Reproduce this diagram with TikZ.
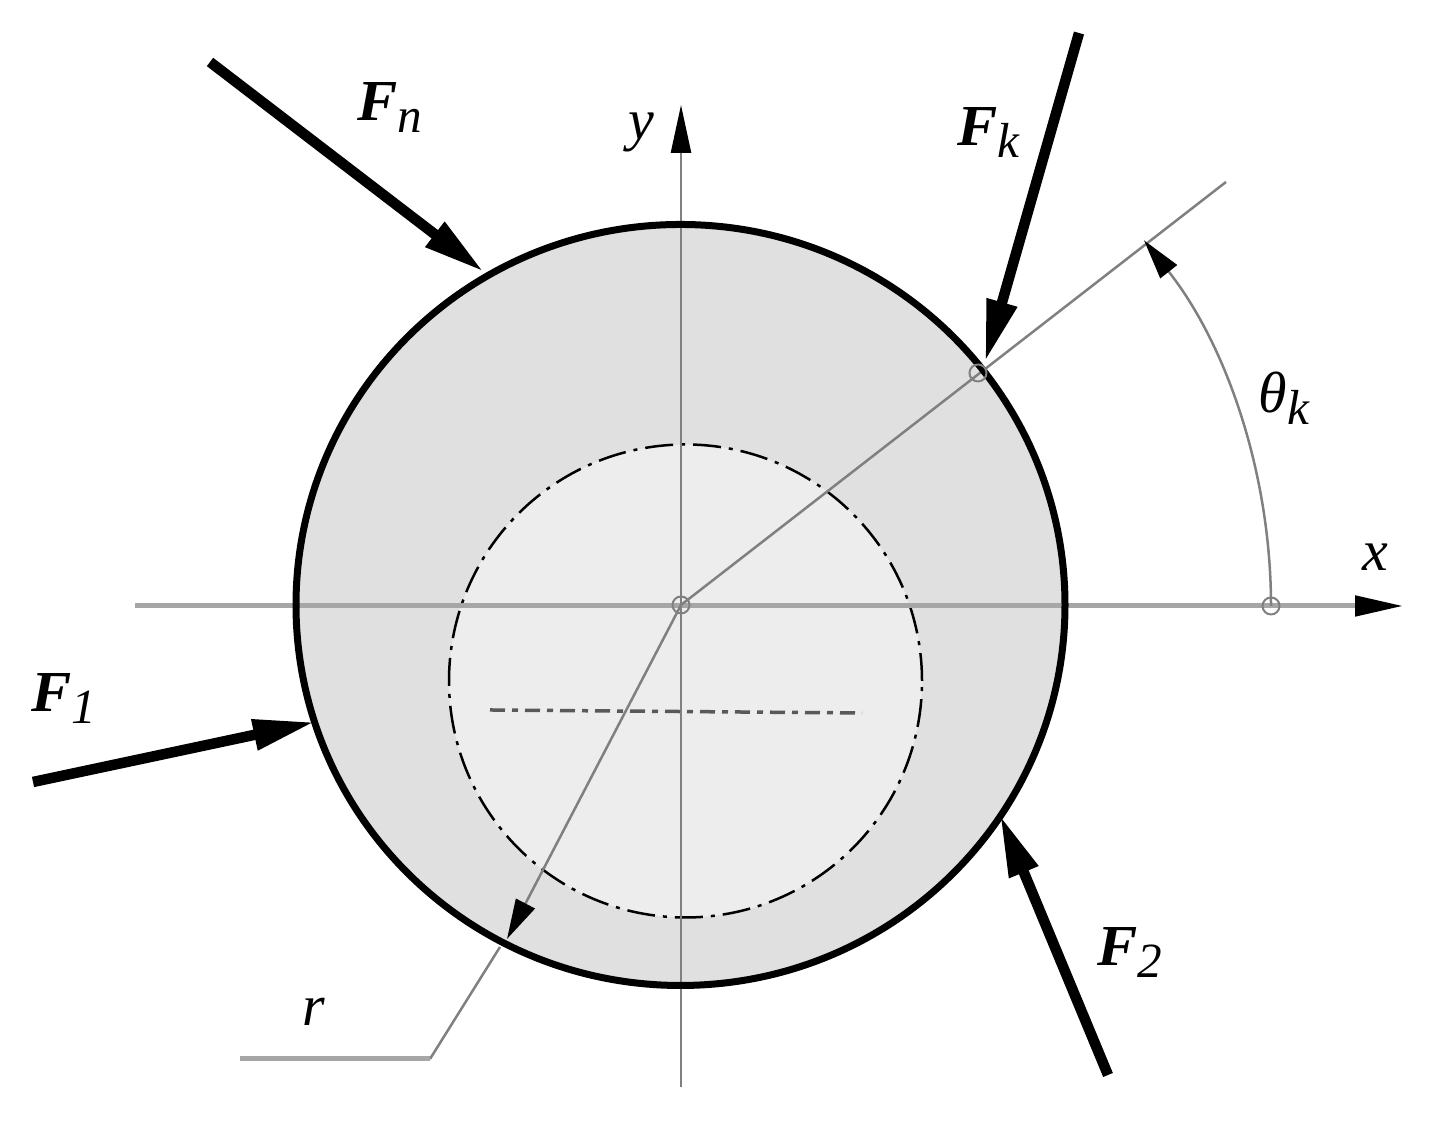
\documentclass[tikz,border=0pt]{standalone}
\usepackage{fontspec}
\setmainfont{Liberation Serif}
\usetikzlibrary{arrows.meta, positioning, shapes.geometric}
\tikzset{
    disc/.style={ellipse, inner sep=0pt, outer sep=0pt},
    axis/.style={draw=black!35, line width=0.05cm},
    thinline/.style={draw=black!50, line width=0.025cm},
    pin/.style={circle, draw=black!50, line width=0.02cm, minimum size=0.17cm, inner sep=0pt},
    force/.style={line width=0.105cm, -{Triangle[length=0.62cm, width=0.29cm]}},
    smallhead/.style={-{Triangle[length=0.40cm, width=0.21cm, black]}},
    axishead/.style={-{Triangle[length=0.48cm, width=0.20cm, black]}},
    chain/.style={draw=black, line width=0.025cm, dash pattern=on 0.28cm off 0.08cm on 0.04cm off 0.08cm},
    lab/.style={font=\fontsize{16.5}{18}\selectfont\itshape, inner sep=0pt, anchor=base west}
}
\newcommand{\sublab}[1]{\raisebox{-0.12cm}{\fontsize{14}{16}\selectfont #1}}
\newcommand{\forcelab}[1]{\scalebox{1.04}[1]{\textbf{F}}\sublab{#1}}

\begin{document}
\begin{tikzpicture}
        \useasboundingbox (0, 0) rectangle (14.4, 11.24);

        % Discs
        \node (Outer) [disc, fill=black!12, minimum width=7.69cm, minimum height=7.61cm] at (6.805, 5.19) {};
        \node (Inner) [disc, fill=black!7, minimum width=4.73cm, minimum height=4.73cm] at (6.855, 4.43) {};
        \draw[chain] (Inner.center) ++(2.365, 0) arc[start angle=0, end angle=360, radius=2.365];
        \coordinate (O) at (6.81, 5.19);

        % Axes
        \coordinate (X_start) at (1.35, 5.18);
        \coordinate (X_end) at (14.03, 5.18);
        \coordinate (Y_start) at (6.81, 0.37);
        \coordinate (Y_end) at (6.81, 10.19);
        \draw[axis, axishead] (X_start) -- (X_end);
        \draw[thinline, axishead] (Y_start) -- (Y_end);

        % Chain line
        \coordinate (Chain_start) at (4.90, 4.14);
        \coordinate (Chain_end) at (8.62, 4.11);
        \draw[draw=black!65, line width=0.035cm, dash pattern=on 0.15cm off 0.07cm on 0.06cm off 0.07cm] (Chain_start) -- (Chain_end);

        % Radius and angle
        \coordinate (Ray_end) at (12.26, 9.42);
        \coordinate (R_tip) at (5.07, 1.85);
        \coordinate (R_hit) at (5.00, 1.77);
        \coordinate (R_knee) at (4.30, 0.65);
        \coordinate (R_free) at (2.40, 0.65);
        \coordinate (Arc_start) at (12.71, 5.18);
        \draw[thinline] (O) -- (Ray_end);
        \draw[thinline, smallhead] (O) -- (R_tip);
        \draw[thinline] (R_hit) -- (R_knee);
        \draw[axis] (R_knee) -- (R_free);
        \draw[thinline, smallhead] (Arc_start) arc[start angle=0, end angle=38.3, radius=5.9];

        % Rim on top
        \node (Rim) [disc, draw=black, line width=0.07cm, minimum width=7.69cm, minimum height=7.61cm] at (6.805, 5.19) {};

        % Pins
        \node (Pin_O) [pin] at (O) {};
        \node (Pin_k) [pin] at (9.78, 7.51) {};
        \node (Pin_x) [pin] at (Arc_start) {};

        % Forces
        \coordinate (Fn_start) at (2.10, 10.62);
        \coordinate (Fn_end) at (4.84, 8.52);
        \coordinate (Fk_start) at (10.79, 10.91);
        \coordinate (Fk_end) at (9.85, 7.62);
        \coordinate (F2_start) at (11.08, 0.49);
        \coordinate (F2_end) at (10.00, 3.09);
        \coordinate (F1_start) at (0.33, 3.42);
        \coordinate (F1_end) at (3.15, 4.02);
        \draw[force] (Fn_start) -- (Fn_end);
        \draw[force] (Fk_start) -- (Fk_end);
        \draw[force] (F2_start) -- (F2_end);
        \draw[force] (F1_start) -- (F1_end);

        % Labels
        \node (Fn_label) [lab] at (3.57, 10.03) {\forcelab{n}};
        \node (Fk_label) [lab] at (9.57, 9.78) {\forcelab{k}};
        \node (F2_label) [lab] at (10.97, 1.58) {\forcelab{2}};
        \node (F1_label) [lab] at (0.31, 4.12) {\forcelab{1}};
        \node (Y_label) [lab] at (6.28, 9.84) {y};
        \node (X_label) [lab] at (13.62, 5.53) {x};
        \node (R_label) [lab] at (3.02, 0.98) {r};
        \node (Theta_label) [lab] at (12.58, 7.11) {θ\sublab{k}};
\end{tikzpicture}
\end{document}
